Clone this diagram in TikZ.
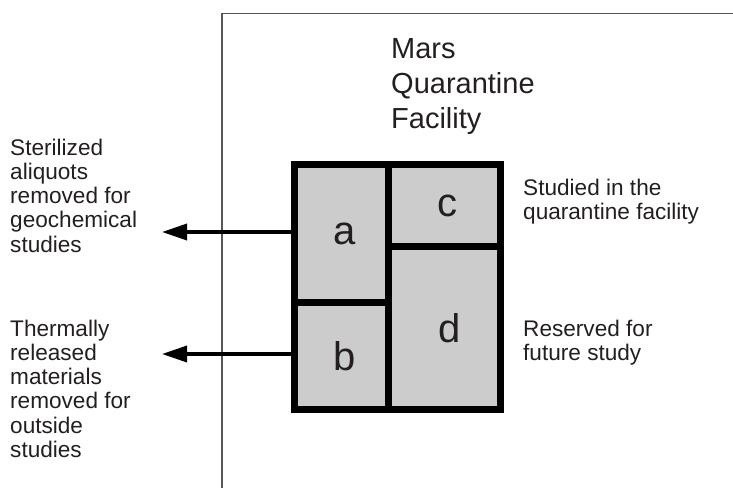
\documentclass[tikz,border=0pt]{standalone}
\usepackage{fontspec}
\setmainfont{Liberation Sans}
\usetikzlibrary{arrows.meta}
\definecolor{cellgray}{HTML}{CCCCCC}
\definecolor{ink}{HTML}{231F20}
\definecolor{framegray}{HTML}{555555}
\tikzset{
  cell/.style={draw=black, line width=7pt, fill=cellgray, inner sep=0pt,
    font=\fontsize{40}{44}\selectfont, text=ink},
  lbl/.style={inner sep=0pt, align=left, anchor=base west, text=ink,
    font=\fontsize{22.6}{24.3}\selectfont},
  title/.style={inner sep=0pt, align=left, anchor=base west, text=ink,
    font=\fontsize{29}{35}\selectfont},
  outarrow/.style={line width=3.5pt, -{Triangle[length=25pt 0 0, width=16pt 0 0]}},
  frame/.style={draw=framegray, line width=1.3pt}
}
\begin{document}
\begin{tikzpicture}[x=1pt,y=-1pt]
\useasboundingbox (0,0) rectangle (733,487);
% facility frame
\coordinate (fbl) at (222,495);
\coordinate (ftl) at (222,13.5);
\coordinate (ftr) at (745,13.5);
\draw[frame] (fbl) -- (ftl) -- (ftr);
% title (anchor at baseline of last line)
\node[title] (ttl) at (391,128) {Mars\\Quarantine\\Facility};
% cells
\node[cell, minimum width=93.5pt, minimum height=138pt] (a) at (341.25,233.5) {\hspace*{6pt}a};
\node[cell, minimum width=93.5pt, minimum height=107pt] (b) at (341.25,356) {\hspace*{6pt}b};
\node[cell, minimum width=112.5pt, minimum height=82pt] (c) at (444.25,205.5) {\hspace*{6pt}c};
\node[cell, minimum width=112.5pt, minimum height=163pt] (d) at (444.25,328) {\hspace*{10pt}d};
% arrows
\coordinate (tipa) at (162,232);
\coordinate (tipb) at (162,354);
\draw[outarrow] (a.west |- tipa) -- (tipa);
\draw[outarrow] (b.west |- tipb) -- (tipb);
% labels (anchor at baseline of last line)
\node[lbl] (la) at (10,252.2) {Sterilized\\aliquots\\removed for\\geochemical\\studies};
\node[lbl] (lb) at (10,457.5) {Thermally\\released\\materials\\removed for\\outside\\studies};
\node[lbl] (lc) at (523,219.3) {Studied in the\\quarantine facility};
\node[lbl] (ld) at (523,360.3) {Reserved for\\future study};
\end{tikzpicture}
\end{document}
